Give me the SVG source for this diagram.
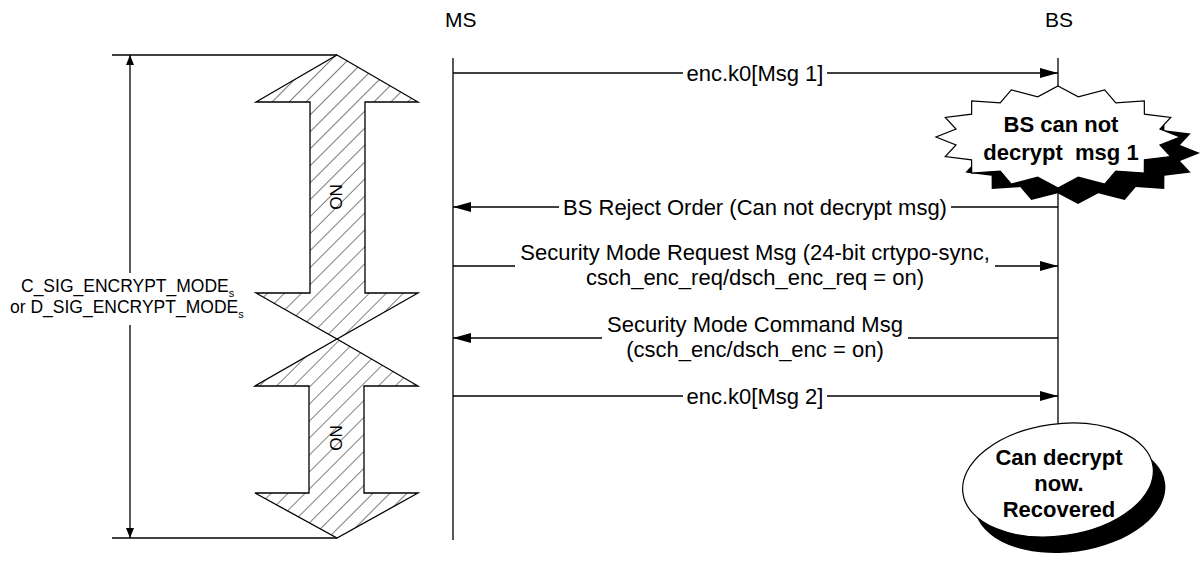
<svg xmlns="http://www.w3.org/2000/svg" width="1204" height="565" viewBox="0 0 1204 565">
<style>
text{font-family:"Liberation Sans",Arial,sans-serif;fill:#000}
.lbl{font-size:22px;text-anchor:middle}
.bold{font-size:22px;font-weight:bold;text-anchor:middle}
.side{font-size:17.5px}
.ln{stroke:#000;stroke-width:1.3;fill:none}
.big{fill:url(#hatch);stroke:#000;stroke-width:1.3}
</style>
<defs>
<pattern id="hatch" patternUnits="userSpaceOnUse" width="12" height="12" patternTransform="rotate(45)">
<rect width="12" height="12" fill="#fff"/>
<line x1="0" y1="0" x2="0" y2="12" stroke="#000" stroke-width="1"/>
</pattern>
<marker id="ah" markerUnits="userSpaceOnUse" markerWidth="18" markerHeight="10" refX="18" refY="5" orient="auto">
<path d="M0,0 L18,5 L0,10 z" fill="#000"/>
</marker>
<marker id="ahs" markerUnits="userSpaceOnUse" markerWidth="10" markerHeight="8" refX="10" refY="4" orient="auto">
<path d="M0,0 L10,4 L0,8 z" fill="#000"/>
</marker>
<polygon id="burst" points="1058,86 1078.3,96.8 1104.7,89.9 1115.8,102.9 1144.3,100.9 1144.4,114.2 1170.7,117.5 1160,129 1180,137 1160,145 1170.7,156.5 1144.4,159.8 1144.3,173.1 1115.8,171.1 1104.7,184.1 1078.3,177.2 1058,188 1037.7,177.2 1011.3,184.1 1000.2,171.1 971.7,173.1 971.6,159.8 945.3,156.5 956,145 936,137 956,129 945.3,117.5 971.6,114.2 971.7,100.9 1000.2,102.9 1011.3,89.9 1037.7,96.8"/>
</defs>
<rect width="1204" height="565" fill="#fff"/>

<g id="dimension">
<line class="ln" x1="112" y1="55" x2="337" y2="55"/>
<line class="ln" x1="112" y1="538" x2="337" y2="538"/>
<line class="ln" x1="130" y1="273" x2="130" y2="55" marker-end="url(#ahs)"/>
<line class="ln" x1="130" y1="325" x2="130" y2="538" marker-end="url(#ahs)"/>
<text class="side" x="21" y="292">C_SIG_ENCRYPT_MODE<tspan font-size="11" dy="5">s</tspan></text>
<text class="side" x="10" y="313">or D_SIG_ENCRYPT_MODE<tspan font-size="11" dy="5">s</tspan></text>
</g>

<g id="on-upper">
<polygon class="big" points="337,55 418,102 365,102 365,293 418,293 337,339 256,293 310,293 310,102 256,102"/>
<text font-size="17" text-anchor="middle" dominant-baseline="central" transform="translate(336,197) rotate(-90)">ON</text>
</g>
<g id="on-lower">
<polygon class="big" points="337,339 418,386 364,386 364,493 418,493 337,538 255,493 309,493 309,386 255,386"/>
<text font-size="17" text-anchor="middle" dominant-baseline="central" transform="translate(336,438) rotate(-90)">ON</text>
</g>

<g id="ms">
<text x="445" y="27" font-size="21">MS</text>
<line class="ln" x1="453" y1="58" x2="453" y2="540"/>
</g>
<g id="bs">
<text x="1045" y="27" font-size="21">BS</text>
<line class="ln" x1="1058" y1="58" x2="1058" y2="430"/>
</g>

<g id="connectors">
<line class="ln" x1="453" y1="73" x2="683" y2="73"/>
<line class="ln" x1="827" y1="73" x2="1058" y2="73" marker-end="url(#ah)"/>
<text class="lbl" x="755" y="81">enc.k0[Msg 1]</text>

<line class="ln" x1="1058" y1="207" x2="951" y2="207"/>
<line class="ln" x1="559" y1="207" x2="453" y2="207" marker-end="url(#ah)"/>
<text class="lbl" x="755" y="215">BS Reject Order (Can not decrypt msg)</text>

<line class="ln" x1="453" y1="266" x2="515" y2="266"/>
<line class="ln" x1="995" y1="266" x2="1058" y2="266" marker-end="url(#ah)"/>
<text class="lbl" x="755" y="260">Security Mode Request Msg (24-bit crtypo-sync,</text>
<text class="lbl" x="755" y="285">csch_enc_req/dsch_enc_req = on)</text>

<line class="ln" x1="1058" y1="338" x2="908" y2="338"/>
<line class="ln" x1="602" y1="338" x2="453" y2="338" marker-end="url(#ah)"/>
<text class="lbl" x="755" y="332">Security Mode Command Msg</text>
<text class="lbl" x="755" y="357">(csch_enc/dsch_enc = on)</text>

<line class="ln" x1="453" y1="396" x2="683" y2="396"/>
<line class="ln" x1="827" y1="396" x2="1058" y2="396" marker-end="url(#ah)"/>
<text class="lbl" x="755" y="404">enc.k0[Msg 2]</text>
</g>

<g id="cannot-decrypt">
<use href="#burst" transform="translate(20,16)" fill="#000"/>
<use href="#burst" fill="#fff" stroke="#000" stroke-width="1.2"/>
<text class="bold" x="1061" y="132">BS can not</text>
<text class="bold" x="1061" y="160" xml:space="preserve">decrypt  msg 1</text>
</g>

<g id="recovered">
<ellipse cx="1070" cy="496" rx="96" ry="56" transform="rotate(-8 1070 496)" fill="#000"/>
<ellipse cx="1058" cy="480" rx="96" ry="56" transform="rotate(-8 1058 480)" fill="#fff" stroke="#000" stroke-width="1.2"/>
<text class="bold" x="1059" y="465">Can decrypt</text>
<text class="bold" x="1059" y="491">now.</text>
<text class="bold" x="1059" y="517">Recovered</text>
</g>
</svg>
